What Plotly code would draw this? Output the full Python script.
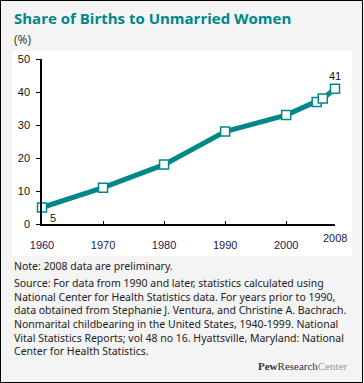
import plotly.graph_objects as go

years = [1960, 1970, 1980, 1990, 2000, 2005, 2006, 2008]
shares = [5, 11, 18, 28, 33, 37, 38, 41]
x_tick_years = [1960, 1970, 1980, 1990, 2000]
y_ticks = [0, 10, 20, 30, 40, 50]
labeled_points = {1960: "5", 2008: "41"}

title_text = "Share of Births to Unmarried Women"
unit_text = "(%)"
note_text = "Note: 2008 data are preliminary."
source_lines = [
    "Source: For data from 1990 and later, statistics calculated using",
    "National Center for Health Statistics data. For years prior to 1990,",
    "data obtained from Stephanie J. Ventura, and Christine A. Bachrach.",
    "Nonmarital childbearing in the United States, 1940-1999. National",
    "Vital Statistics Reports; vol 48 no 16. Hyattsville, Maryland: National",
    "Center for Health Statistics.",
]

W, H = 364, 383
L, R, T, B = 42, 335, 59, 224  # plot area in pixels

def px(x):
    return (x - L) / (R - L)

def py(y):
    return (B - y) / (B - T)

TEAL = "#00878a"
fig = go.Figure()
fig.add_trace(go.Scatter(
    x=years, y=shares, mode="lines+markers",
    line=dict(color=TEAL, width=5),
    marker=dict(symbol="square", size=9, color="white", line=dict(color=TEAL, width=1.5)),
    cliponaxis=False, hoverinfo="skip", showlegend=False,
))

shapes = [
    dict(type="rect", xref="paper", yref="paper", x0=px(12), x1=px(352), y0=py(256), y1=py(51),
         fillcolor="white", line=dict(width=0), layer="below"),
    dict(type="rect", xref="paper", yref="paper", x0=px(0.5), x1=px(362.5), y0=py(382.5), y1=py(0.5),
         fillcolor="rgba(0,0,0,0)", line=dict(color="black", width=1), layer="above"),
]

annotations = [
    dict(text="<b>" + title_text + "</b>", x=px(12), y=py(18), xref="paper", yref="paper",
         xanchor="left", yanchor="middle", showarrow=False,
         font=dict(family="Open Sans", size=15, color=TEAL)),
    dict(text=unit_text, x=px(12), y=py(40), xref="paper", yref="paper",
         xanchor="left", yanchor="middle", showarrow=False,
         font=dict(family="Open Sans", size=12, color="#333333")),
    dict(text="2008", x=2008, y=py(238), xref="x", yref="paper",
         xanchor="center", yanchor="middle", showarrow=False,
         font=dict(family="Liberation Sans", size=11, color="#1a1a50")),
    dict(text=note_text, x=px(12), y=py(266), xref="paper", yref="paper",
         xanchor="left", yanchor="middle", showarrow=False,
         font=dict(family="Noto Sans", size=10.5, color="#222222")),
    dict(text="<br>".join(source_lines), x=px(12), y=py(274), xref="paper", yref="paper",
         xanchor="left", yanchor="top", align="left", showarrow=False,
         font=dict(family="Noto Sans", size=10.5, color="#222222")),
    dict(text="<b>Pew</b>Research<span style='color:#999999'>Center</span>", x=px(350), y=py(366),
         xref="paper", yref="paper", xanchor="right", yanchor="middle", showarrow=False,
         font=dict(family="Liberation Serif", size=11, color="#333333")),
]
for yr, lab in labeled_points.items():
    v = shares[years.index(yr)]
    if yr == 1960:
        annotations.append(dict(text=lab, x=yr, y=v, xref="x", yref="y", showarrow=False,
                                xanchor="left", yanchor="top", xshift=6, yshift=-2,
                                font=dict(family="Liberation Sans", size=11, color="#111111")))
    else:
        annotations.append(dict(text=lab, x=yr, y=v, xref="x", yref="y", showarrow=False,
                                xanchor="center", yanchor="bottom", yshift=5,
                                font=dict(family="Liberation Sans", size=11, color="#111111")))

fig.update_layout(
    width=W, height=H,
    margin=dict(l=L, r=W - R, t=T, b=H - B, pad=0),
    paper_bgcolor="#f4f4f4", plot_bgcolor="rgba(0,0,0,0)",
    shapes=shapes, annotations=annotations,
    xaxis=dict(range=[1960, 2008], tickvals=x_tick_years, ticktext=[str(v) for v in x_tick_years],
               showgrid=False, zeroline=False, showline=True, linecolor="black", linewidth=1.5,
               ticks="inside", ticklen=3, tickcolor="black", ticklabelstandoff=10,
               tickfont=dict(family="Liberation Sans", size=11, color="#1a1a50")),
    yaxis=dict(range=[0, 50], tickvals=y_ticks, showgrid=False, zeroline=False,
               showline=True, linecolor="black", linewidth=1.5,
               ticks="outside", ticklen=4, tickcolor="black", ticklabelstandoff=4,
               tickfont=dict(family="Liberation Sans", size=11, color="#111111")),
)

fig.write_html("out.html", config={"displayModeBar": False},
               post_script="document.body.style.margin='0';document.body.style.overflow='hidden';")
